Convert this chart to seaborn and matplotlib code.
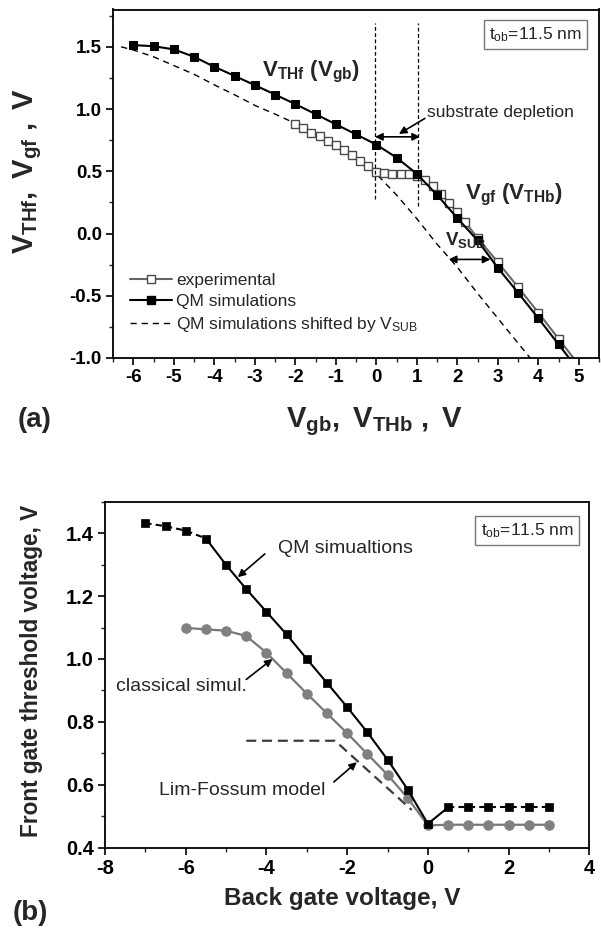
import numpy as np
import pandas as pd
import matplotlib
matplotlib.use("Agg")
import matplotlib.pyplot as plt
import seaborn as sns
from matplotlib.ticker import MultipleLocator, FormatStrFormatter
from matplotlib.lines import Line2D

sns.set_style("ticks")
plt.rcParams['font.family'] = ['Liberation Sans', 'DejaVu Sans']
plt.rcParams['mathtext.fontset'] = 'custom'
plt.rcParams['mathtext.rm'] = 'Liberation Sans'
plt.rcParams['mathtext.bf'] = 'Liberation Sans:bold'
plt.rcParams['mathtext.it'] = 'Liberation Sans:italic'
plt.rcParams['axes.unicode_minus'] = False

# ---------------- panel (a) data ----------------
exp_x = [-2.0, -1.8, -1.6, -1.4, -1.2, -1.0, -0.8, -0.6, -0.4, -0.2, 0.0, 0.2, 0.4, 0.6,
         0.8, 1.0, 1.2, 1.4, 1.6, 1.8, 2.0, 2.2, 2.5, 3.0, 3.5, 4.0, 4.5, 5.0]
exp_y = [0.88, 0.85, 0.81, 0.78, 0.745, 0.71, 0.67, 0.63, 0.585, 0.54, 0.496, 0.488, 0.482, 0.48,
         0.476, 0.46, 0.43, 0.38, 0.32, 0.245, 0.17, 0.09, -0.035, -0.23, -0.43, -0.635, -0.845, -1.055]

qm_x = [-6.0, -5.5, -5.0, -4.5, -4.0, -3.5, -3.0, -2.5, -2.0, -1.5, -1.0, -0.5, 0.0, 0.5,
        1.0, 1.5, 2.0, 2.5, 3.0, 3.5, 4.0, 4.5, 5.0]
qm_y = [1.514, 1.505, 1.48, 1.42, 1.34, 1.267, 1.192, 1.117, 1.04, 0.96, 0.878, 0.797, 0.715, 0.61,
        0.48, 0.31, 0.125, -0.055, -0.275, -0.475, -0.68, -0.89, -1.10]

shift_x = [-6.3, -6.0, -5.5, -5.0, -4.5, -4.0, -3.5, -3.0, -2.5, -2.0, -1.5, -1.0, -0.5, 0.0,
           0.5, 1.0, 1.5, 2.0, 2.5, 3.0, 3.5, 3.8]
shift_y = [1.50, 1.475, 1.42, 1.35, 1.28, 1.195, 1.115, 1.03, 0.96, 0.885, 0.80, 0.71, 0.60, 0.48,
           0.31, 0.12, -0.085, -0.27, -0.48, -0.68, -0.88, -1.0]

legend_labels_a = ["experimental", "QM simulations", r"QM simulations shifted by V$_{\mathrm{SUB}}$"]

# ---------------- panel (b) data ----------------
qm2_x = [-7.0, -6.5, -6.0, -5.5, -5.0, -4.5, -4.0, -3.5, -3.0, -2.5, -2.0, -1.5, -1.0, -0.5,
         0.0, 0.5, 1.0, 1.5, 2.0, 2.5, 3.0]
qm2_y = [1.432, 1.422, 1.408, 1.383, 1.299, 1.222, 1.15, 1.078, 1.0, 0.924, 0.847, 0.767, 0.68, 0.585,
         0.476, 0.528, 0.528, 0.528, 0.528, 0.528, 0.528]

cl_x = [-6.0, -5.5, -5.0, -4.5, -4.0, -3.5, -3.0, -2.5, -2.0, -1.5, -1.0, -0.5, 0.0,
        0.5, 1.0, 1.5, 2.0, 2.5, 3.0]
cl_y = [1.099, 1.094, 1.09, 1.073, 1.02, 0.955, 0.89, 0.827, 0.764, 0.698, 0.632, 0.558, 0.471,
        0.473, 0.473, 0.473, 0.473, 0.473, 0.473]

lf_x = [-4.5, -2.3, -0.4]
lf_y = [0.74, 0.74, 0.52]

W, H = 601, 931
fig = plt.figure(figsize=(W / 100, H / 100), dpi=100)

def frac(l, t, r, b):
    return [l / W, 1 - b / H, (r - l) / W, (b - t) / H]

ax1 = fig.add_axes(frac(113, 9.5, 599, 358))
ax2 = fig.add_axes(frac(105, 501.7, 589.3, 847.7))

GRAY_LINE = '#666666'
GRAY_EDGE = '#4a4a4a'

# ---------------- panel (a) ----------------
df_exp = pd.DataFrame({'x': exp_x, 'y': exp_y})
df_qm = pd.DataFrame({'x': qm_x, 'y': qm_y})
df_sh = pd.DataFrame({'x': shift_x, 'y': shift_y})

sns.lineplot(data=df_sh, x='x', y='y', ax=ax1, sort=False, estimator=None, color='black',
             linewidth=1.0, linestyle=(0, (4.5, 3.5)))
sns.lineplot(data=df_exp, x='x', y='y', ax=ax1, sort=False, estimator=None, color=GRAY_LINE,
             linewidth=1.5, marker='s', markersize=5.2, markerfacecolor='white',
             markeredgecolor=GRAY_EDGE, markeredgewidth=1.0)
sns.lineplot(data=df_qm, x='x', y='y', ax=ax1, sort=False, estimator=None, color='black',
             linewidth=1.5, marker='s', markersize=5.2, markerfacecolor='black',
             markeredgecolor='black')

# vertical dashed markers of substrate depletion
ax1.plot([-0.03, -0.03], [0.28, 1.69], color='black', lw=0.9, ls=(0, (3, 2)))
ax1.plot([1.03, 1.03], [0.22, 1.69], color='black', lw=0.9, ls=(0, (3, 2)))

ax1.set_xlim(-6.5, 5.5)
ax1.set_ylim(-1.0, 1.8)
ax1.xaxis.set_major_locator(MultipleLocator(1))
ax1.xaxis.set_minor_locator(MultipleLocator(0.5))
ax1.yaxis.set_major_locator(MultipleLocator(0.5))
ax1.yaxis.set_minor_locator(MultipleLocator(0.25))
ax1.xaxis.set_major_formatter(FormatStrFormatter('%d'))
ax1.yaxis.set_major_formatter(FormatStrFormatter('%.1f'))

handles = [
    Line2D([], [], color=GRAY_LINE, lw=1.5, marker='s', markersize=5.2, markerfacecolor='white',
           markeredgecolor=GRAY_EDGE, markeredgewidth=1.0),
    Line2D([], [], color='black', lw=1.5, marker='s', markersize=5.2, markerfacecolor='black'),
    Line2D([], [], color='black', lw=1.0, ls=(0, (4.5, 3.5))),
]
leg = ax1.legend(handles, legend_labels_a, loc='upper left', bbox_to_anchor=(0.035, 0.245),
                 frameon=False, fontsize=12.5, handlelength=2.4, handletextpad=0.25,
                 labelspacing=0.36, borderpad=0, borderaxespad=0)

ax1.text(-2.83, 1.265, r'$\mathbf{V_{THf}\ (V_{gb})}$', fontsize=16, ha='left', va='baseline')
ax1.text(2.18, 0.277, r'$\mathbf{V_{gf}\ (V_{THb})}$', fontsize=16, ha='left', va='baseline')
ax1.text(1.69, -0.093, r'$\mathbf{V_{SUB}}$', fontsize=13.5, ha='left', va='baseline')
ax1.text(1.26, 0.97, 'substrate depletion', fontsize=12.5, ha='left', va='center')
ax1.text(0.964, 0.954, r't$_{\mathrm{ob}}$=11.5 nm', transform=ax1.transAxes, fontsize=12.5,
         ha='right', va='top',
         bbox=dict(boxstyle='square,pad=0.3', facecolor='white', edgecolor='#777777', lw=1.0))

arrow_kw = dict(arrowstyle='-|>', color='black', lw=1.2, mutation_scale=11, shrinkA=0, shrinkB=0)
darrow_kw = dict(arrowstyle='<|-|>', color='black', lw=1.2, mutation_scale=11, shrinkA=0, shrinkB=0)
ax1.annotate('', xy=(0.56, 0.80), xytext=(1.2, 0.925), arrowprops=arrow_kw)
ax1.annotate('', xy=(-0.03, 0.777), xytext=(1.08, 0.777), arrowprops=darrow_kw)
ax1.annotate('', xy=(1.79, -0.208), xytext=(2.82, -0.208), arrowprops=darrow_kw)

ax1.set_xlabel(r'$\mathbf{V_{gb},\ V_{THb}\ ,\ V}$', fontsize=21)
ax1.xaxis.set_label_coords(0.539, -0.135)
ax1.set_ylabel(r'$\mathbf{V_{THf},\ V_{gf}\ ,\ V}$', fontsize=21)
ax1.yaxis.label.set_va('center')
ax1.yaxis.set_label_coords(-0.175, 0.535)

# ---------------- panel (b) ----------------
df_qm2 = pd.DataFrame({'x': qm2_x, 'y': qm2_y})
df_cl = pd.DataFrame({'x': cl_x, 'y': cl_y})
df_lf = pd.DataFrame({'x': lf_x, 'y': lf_y})

sns.lineplot(data=df_lf, x='x', y='y', ax=ax2, sort=False, estimator=None, color='#3c3c3c',
             linewidth=1.6, linestyle=(0, (4.5, 2.6)))
sns.lineplot(data=df_cl, x='x', y='y', ax=ax2, sort=False, estimator=None, color='#777777',
             linewidth=1.6, marker='o', markersize=6.8, markerfacecolor='#808080',
             markeredgecolor='#808080')
sns.lineplot(data=df_qm2.iloc[0:4], x='x', y='y', ax=ax2, sort=False, estimator=None,
             color='black', linewidth=1.5, linestyle=(0, (3, 2)))
sns.lineplot(data=df_qm2.iloc[3:16], x='x', y='y', ax=ax2, sort=False, estimator=None,
             color='black', linewidth=1.5)
sns.lineplot(data=df_qm2.iloc[15:], x='x', y='y', ax=ax2, sort=False, estimator=None,
             color='black', linewidth=1.5, linestyle=(0, (3, 2)))
sns.scatterplot(data=df_qm2, x='x', y='y', ax=ax2, marker='s', s=40, color='black',
                edgecolor='black', linewidth=0.5, zorder=5)

ax2.set_xlim(-8, 4)
ax2.set_ylim(0.4, 1.5)
ax2.xaxis.set_major_locator(MultipleLocator(2))
ax2.xaxis.set_minor_locator(MultipleLocator(1))
ax2.yaxis.set_major_locator(MultipleLocator(0.2))
ax2.yaxis.set_minor_locator(MultipleLocator(0.1))
ax2.xaxis.set_major_formatter(FormatStrFormatter('%d'))
ax2.yaxis.set_major_formatter(FormatStrFormatter('%.1f'))

ax2.text(-2.05, 1.35, 'QM simualtions', fontsize=14, ha='center', va='center')
ax2.text(-6.1, 0.911, 'classical simul.', fontsize=14, ha='center', va='center')
ax2.text(-4.61, 0.583, 'Lim-Fossum model', fontsize=14, ha='center', va='center')
ax2.text(0.967, 0.943, r't$_{\mathrm{ob}}$=11.5 nm', transform=ax2.transAxes, fontsize=12.5,
         ha='right', va='top',
         bbox=dict(boxstyle='square,pad=0.3', facecolor='white', edgecolor='#777777', lw=1.0))
ax2.annotate('', xy=(-4.71, 1.26), xytext=(-4.04, 1.334), arrowprops=arrow_kw)
ax2.annotate('', xy=(-3.85, 1.0), xytext=(-4.5, 0.935), arrowprops=arrow_kw)
ax2.annotate('', xy=(-1.76, 0.672), xytext=(-2.33, 0.609), arrowprops=arrow_kw)

ax2.set_xlabel('Back gate voltage, V', fontsize=17.5, fontweight='bold')
ax2.xaxis.set_label_coords(0.489, -0.115)
ax2.set_ylabel('Front gate threshold voltage, V', fontsize=16.3, fontweight='bold')
ax2.yaxis.label.set_va('center')
ax2.yaxis.set_label_coords(-0.152, 0.511)

for ax, lsz in ((ax1, 13.5), (ax2, 14.5)):
    for s in ax.spines.values():
        s.set_linewidth(1.3)
        s.set_color('black')
    ax.tick_params(which='major', direction='out', length=5, width=1.2, labelsize=lsz,
                   top=False, right=False, colors='black', pad=3)
    ax.tick_params(which='minor', direction='out', length=3, width=1.0, top=False, right=False)
    for lab in ax.get_xticklabels() + ax.get_yticklabels():
        lab.set_fontweight('bold')

fig.text(35 / W, 1 - 420 / H, '(a)', fontsize=20, fontweight='bold', ha='center', va='center')
fig.text(30 / W, 1 - 913 / H, '(b)', fontsize=20, fontweight='bold', ha='center', va='center')

fig.savefig('out.png', dpi=100)
